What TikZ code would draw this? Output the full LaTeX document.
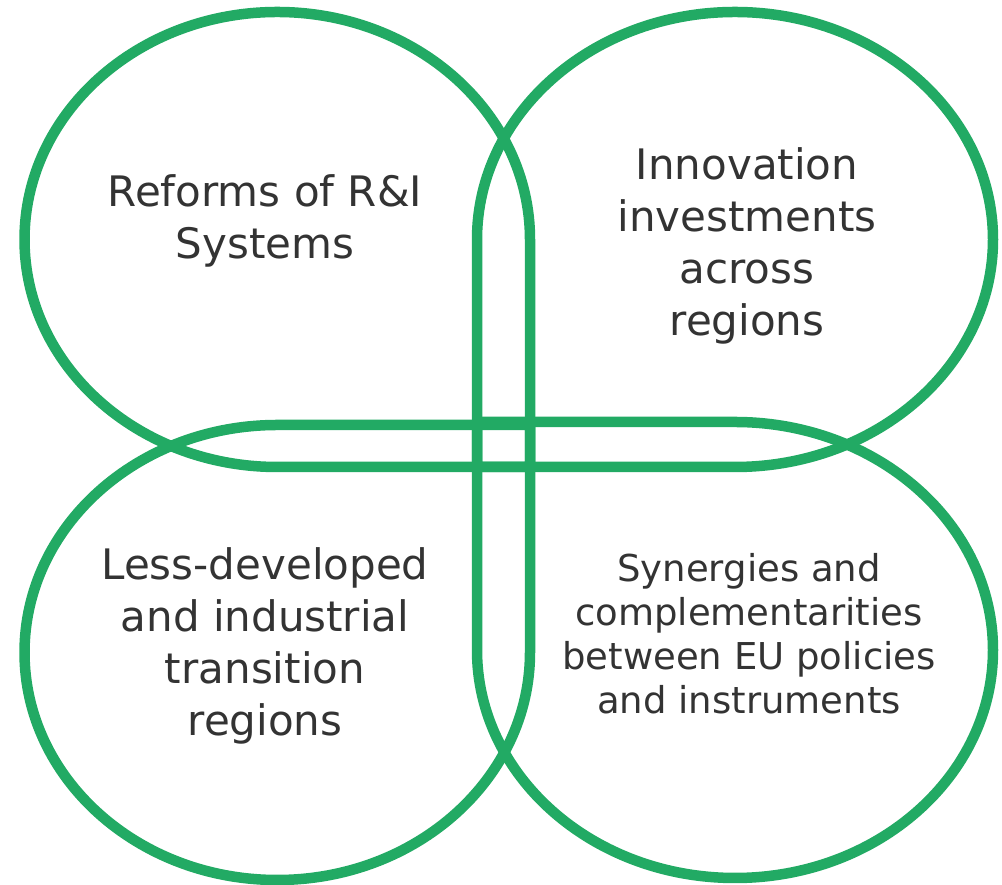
\documentclass[tikz,border=0pt]{standalone}
\usepackage{fontspec}
\setmainfont{DejaVu Sans}
\definecolor{leafgreen}{RGB}{34,170,100}
\definecolor{txtgray}{RGB}{51,51,51}
\tikzset{
  leaf/.style={draw=leafgreen, line width=10.5pt, line join=round},
  bigtxt/.style={text=txtgray, align=center, inner sep=0pt, font=\fontsize{42}{52}\selectfont},
  smalltxt/.style={text=txtgray, align=center, inner sep=0pt, font=\fontsize{37}{44}\selectfont}
}
\begin{document}
\begin{tikzpicture}[x=1pt,y=1pt]
\useasboundingbox (0,0) rectangle (1002,885);
% top-left leaf (square corner bottom-right)
\draw[leaf] (277.25,418) arc[start angle=270, end angle=0, x radius=252.75, y radius=227.5]
  -- (530,418) -- cycle;
% top-right leaf (square corner bottom-left)
\draw[leaf] (477,645.5) arc[start angle=180, end angle=-90, x radius=258, y radius=227.5]
  -- (477,418) -- cycle;
% bottom-left leaf (square corner top-right)
\draw[leaf] (277.25,460) arc[start angle=90, end angle=360, x radius=252.75, y radius=227.5]
  -- (530,460) -- cycle;
% bottom-right leaf (square corner top-left)
\draw[leaf] (477,235) arc[start angle=180, end angle=450, x radius=258, y radius=228]
  -- (477,463) -- cycle;
\node[bigtxt] (tl) at (265,664) {Reforms of R\&I\\Systems};
\node[bigtxt] (tr) at (747,639.5) {Innovation\\investments\\across\\regions};
\node[bigtxt] (bl) at (265,239) {Less-developed\\and industrial\\transition\\regions};
\node[smalltxt] (br) at (749,251) {Synergies and\\complementarities\\between EU policies\\and instruments};
\end{tikzpicture}
\end{document}
